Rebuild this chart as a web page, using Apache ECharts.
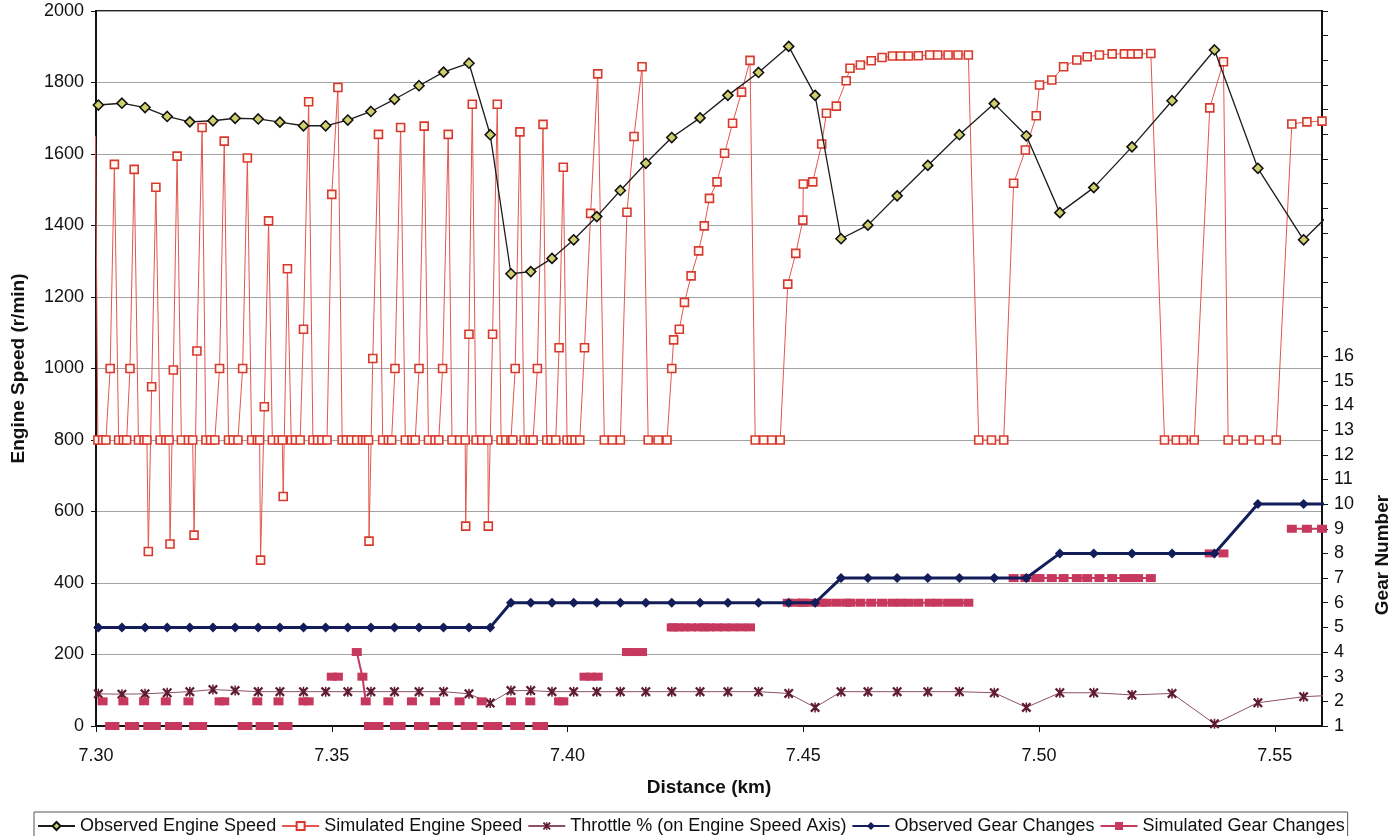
<!DOCTYPE html>
<html>
<head>
<meta charset="utf-8">
<script src="https://cdn.jsdelivr.net/npm/echarts@6/dist/echarts.min.js"></script>
<style>
  html, body { margin: 0; padding: 0; background: #ffffff; }
  #chart { width: 1395px; height: 836px; }
</style>
</head>
<body>
<div id="chart"></div>
<script>
// Observed run, sampled about once per second (distance in km)
const obsDistance = [7.2956, 7.3005, 7.3055, 7.3104, 7.3151, 7.3199, 7.3248, 7.3295, 7.3344, 7.3390,
  7.3440, 7.3487, 7.3534, 7.3583, 7.3633, 7.3685, 7.3737, 7.3791, 7.3836, 7.3880,
  7.3922, 7.3967, 7.4013, 7.4062, 7.4112, 7.4166, 7.4221, 7.4281, 7.4340, 7.4405,
  7.4469, 7.4525, 7.4580, 7.4637, 7.4699, 7.4764, 7.4831, 7.4905, 7.4973, 7.5044,
  7.5116, 7.5197, 7.5282, 7.5372, 7.5464, 7.5561, 7.5656];
const obsEngineSpeed = [1620, 1737, 1742, 1730, 1705, 1690, 1693, 1700, 1698, 1689,
  1679, 1679, 1695, 1719, 1753, 1791, 1829, 1854, 1654, 1265,
  1271, 1308, 1360, 1425, 1498, 1574, 1646, 1701, 1764, 1828,
  1901, 1764, 1363, 1401, 1483, 1568, 1654, 1741, 1651, 1436,
  1506, 1620, 1749, 1891, 1560, 1360, 1485];
const throttlePct = [90, 90, 89, 90, 93, 96, 102, 99, 96, 96,
  96, 96, 96, 96, 96, 96, 96, 90, 64, 99,
  99, 96, 96, 96, 96, 96, 96, 96, 96, 96,
  91, 52, 96, 96, 96, 96, 96, 93, 52, 93,
  93, 87, 91, 6, 65, 82, 88];
const obsGear = [5, 5, 5, 5, 5, 5, 5, 5, 5, 5,
  5, 5, 5, 5, 5, 5, 5, 5, 5, 6,
  6, 6, 6, 6, 6, 6, 6, 6, 6, 6,
  6, 6, 7, 7, 7, 7, 7, 7, 7, 8,
  8, 8, 8, 8, 10, 10, 10];

// Simulated run (finer time step); null gear = no gear change recorded at that step
const simDistance = [7.2999, 7.3004, 7.3014, 7.3021, 7.3030, 7.3039, 7.3048, 7.3058, 7.3065, 7.3072,
  7.3081, 7.3090, 7.3102, 7.3108, 7.3111, 7.3118, 7.3127, 7.3136, 7.3148, 7.3155,
  7.3157, 7.3164, 7.3172, 7.3181, 7.3196, 7.3205, 7.3208, 7.3214, 7.3225, 7.3233,
  7.3243, 7.3252, 7.3262, 7.3272, 7.3281, 7.3291, 7.3301, 7.3311, 7.3321, 7.3330,
  7.3342, 7.3347, 7.3349, 7.3357, 7.3366, 7.3374, 7.3387, 7.3395, 7.3397, 7.3406,
  7.3414, 7.3423, 7.3433, 7.3440, 7.3451, 7.3460, 7.3470, 7.3479, 7.3490, 7.3500,
  7.3513, 7.3522, 7.3531, 7.3541, 7.3553, 7.3565, 7.3572, 7.3578, 7.3579, 7.3587,
  7.3599, 7.3608, 7.3620, 7.3627, 7.3634, 7.3646, 7.3656, 7.3670, 7.3677, 7.3685,
  7.3696, 7.3705, 7.3719, 7.3727, 7.3735, 7.3747, 7.3755, 7.3771, 7.3783, 7.3784,
  7.3791, 7.3798, 7.3806, 7.3818, 7.3831, 7.3832, 7.3841, 7.3851, 7.3859, 7.3869,
  7.3880, 7.3884, 7.3889, 7.3899, 7.3908, 7.3921, 7.3927, 7.3936, 7.3948, 7.3956,
  7.3965, 7.3975, 7.3982, 7.3991, 7.3999, 7.4008, 7.4016, 7.4026, 7.4036, 7.4049,
  7.4064, 7.4078, 7.4095, 7.4112, 7.4126, 7.4141, 7.4158, 7.4171, 7.4192, 7.4211,
  7.4221, 7.4225, 7.4237, 7.4248, 7.4262, 7.4278, 7.4290, 7.4301, 7.4317, 7.4333,
  7.4350, 7.4369, 7.4387, 7.4398, 7.4416, 7.4433, 7.4451, 7.4467, 7.4484, 7.4499,
  7.4500, 7.4520, 7.4539, 7.4549, 7.4570, 7.4591, 7.4599, 7.4621, 7.4644, 7.4667,
  7.4689, 7.4706, 7.4723, 7.4744, 7.4768, 7.4785, 7.4807, 7.4828, 7.4850, 7.4872,
  7.4899, 7.4925, 7.4946, 7.4971, 7.4994, 7.5001, 7.5027, 7.5052, 7.5080, 7.5102,
  7.5128, 7.5155, 7.5181, 7.5196, 7.5210, 7.5237, 7.5266, 7.5291, 7.5306, 7.5329,
  7.5362, 7.5391, 7.5401, 7.5433, 7.5467, 7.5503, 7.5536, 7.5568, 7.5600];
const simEngineSpeed = [1650, 800, 800, 800, 1000, 1571, 800, 800, 800, 1000,
  1557, 800, 800, 800, 488, 949, 1507, 800, 800, 800,
  509, 996, 1594, 800, 800, 800, 534, 1049, 1674, 800,
  800, 800, 1000, 1636, 800, 800, 800, 1000, 1589, 800,
  800, 800, 464, 893, 1413, 800, 800, 800, 642, 1279,
  800, 800, 800, 1110, 1746, 800, 800, 800, 800, 1487,
  1786, 800, 800, 800, 800, 800, 800, 800, 517, 1028,
  1655, 800, 800, 800, 1000, 1674, 800, 800, 800, 1000,
  1678, 800, 800, 800, 1000, 1655, 800, 800, 800, 559,
  1096, 1739, 800, 800, 800, 559, 1096, 1739, 800, 800,
  800, 800, 1000, 1662, 800, 800, 800, 1000, 1683, 800,
  800, 800, 1058, 1563, 800, 800, 800, 800, 1058, 1434,
  1824, 800, 800, 800, 1437, 1649, 1844, 800, 800, 800,
  1000, 1080, 1110, 1185, 1259, 1329, 1399, 1476, 1522, 1602,
  1686, 1773, 1862, 800, 800, 800, 800, 1236, 1322, 1415,
  1516, 1522, 1628, 1714, 1734, 1805, 1840, 1849, 1861, 1870,
  1874, 1874, 1874, 1875, 1877, 1877, 1877, 1877, 1877, 800,
  800, 800, 1518, 1611, 1707, 1793, 1807, 1844, 1863, 1872,
  1877, 1880, 1880, 1880, 1880, 1881, 800, 800, 800, 800,
  1729, 1858, 800, 800, 800, 800, 1684, 1690, 1692];
const simGear = [null, null, 2, null, 1, 1, null, 2, null, 1,
  1, null, 2, null, 1, 1, 1, null, 2, null,
  1, 1, 1, null, 2, null, 1, 1, 1, null,
  null, null, 2, 2, null, null, null, 1, 1, null,
  2, null, 1, 1, 1, null, 2, null, 1, 1,
  null, null, null, 2, 2, null, null, null, null, 3,
  3, null, null, null, 4, 3, 2, null, 1, 1,
  1, null, 2, null, 1, 1, null, 2, null, 1,
  1, null, 2, null, 1, 1, null, 2, null, 1,
  1, 1, null, 2, null, 1, 1, 1, null, null,
  2, null, 1, 1, null, 2, null, 1, 1, null,
  null, null, 2, 2, null, null, null, null, 3, 3,
  3, null, null, null, 4, 4, 4, null, null, null,
  5, 5, 5, 5, 5, 5, 5, 5, 5, 5,
  5, 5, 5, null, null, null, null, 6, 6, 6,
  6, 6, 6, 6, 6, 6, 6, 6, 6, 6,
  6, 6, 6, 6, 6, 6, 6, 6, 6, null,
  null, null, 7, 7, 7, 7, 7, 7, 7, 7,
  7, 7, 7, 7, 7, 7, null, null, null, null,
  8, 8, null, null, null, null, 9, 9, 9];

// Axis settings
const distanceMin = 7.30, distanceMax = 7.56, distanceStep = 0.05;
const speedMin = 0, speedMax = 2000, speedStep = 200;
const gearMin = 1, gearMax = 30, gearLabelTop = 16;

const FONT = '"Liberation Sans", Arial, Helvetica, sans-serif';
const pairs = (xs, ys) => xs.map((x, i) => [x, ys[i] == null ? '-' : ys[i]]);

// Excel-style "star" marker: an X with a vertical bar
const starMarker = 'path://M0,1.6 L1.6,0 L5,3.4 L8.4,0 L10,1.6 L6.6,5 L10,8.4 L8.4,10 L5,6.6 L1.6,10 L0,8.4 L3.4,5 Z M4.25,0 L5.75,0 L5.75,10 L4.25,10 Z';

const chart = echarts.init(document.getElementById('chart'), null, { renderer: 'canvas' });

chart.setOption({
  animation: false,
  backgroundColor: '#ffffff',
  grid: {
    left: 96, right: 73, top: 11, bottom: 110,
    show: true, borderColor: '#222', borderWidth: 2, backgroundColor: 'transparent'
  },
  legend: {
    top: 812, left: 34,
    itemWidth: 37, itemHeight: 10, itemGap: 5,
    padding: [5, 3, 5, 3],
    borderColor: '#555', borderWidth: 1, borderRadius: 0,
    textStyle: { fontFamily: FONT, fontSize: 18, color: '#111' },
    data: ['Observed Engine Speed', 'Simulated Engine Speed', 'Throttle % (on Engine Speed Axis)',
           'Observed Gear Changes', 'Simulated Gear Changes']
  },
  xAxis: {
    type: 'value', min: distanceMin, max: distanceMax, interval: distanceStep,
    name: 'Distance (km)', nameLocation: 'middle', nameGap: 52,
    nameTextStyle: { fontFamily: FONT, fontSize: 19, fontWeight: 'bold', color: '#111' },
    axisLine: { show: true, onZero: false, lineStyle: { color: '#111', width: 2 } },
    axisTick: { show: true, length: 6, lineStyle: { color: '#111', width: 1 } },
    axisLabel: { fontFamily: FONT, fontSize: 18, color: '#111', margin: 21,
                 showMaxLabel: false, formatter: v => v.toFixed(2) },
    splitLine: { show: false }
  },
  yAxis: [
    {
      type: 'value', min: speedMin, max: speedMax, interval: speedStep, position: 'left',
      name: 'Engine Speed (r/min)', nameLocation: 'middle', nameGap: 68, nameRotate: 90,
      nameTextStyle: { fontFamily: FONT, fontSize: 19, fontWeight: 'bold', color: '#111' },
      axisLine: { show: true, lineStyle: { color: '#111', width: 2 } },
      axisTick: { show: true, length: 5, lineStyle: { color: '#111' } },
      axisLabel: { fontFamily: FONT, fontSize: 18, color: '#111', margin: 12,
                   formatter: v => String(v) },
      splitLine: { show: true, lineStyle: { color: '#a3a3a3', width: 1.2 } }
    },
    {
      type: 'value', min: gearMin, max: gearMax, interval: 1, position: 'right',
      axisLine: { show: true, lineStyle: { color: '#111', width: 2 } },
      axisTick: { show: true, length: 6, lineStyle: { color: '#111' } },
      axisLabel: { fontFamily: FONT, fontSize: 18, color: '#111', margin: 12,
                   formatter: v => (v <= gearLabelTop ? String(v) : '') },
      splitLine: { show: false }
    }
  ],
  graphic: [{
    type: 'text', x: 1383, y: 555, rotation: Math.PI / 2,
    style: { text: 'Gear Number', font: 'bold 19px ' + FONT, fill: '#111',
             align: 'center', verticalAlign: 'middle' }
  }],
  series: [
    {
      name: 'Simulated Engine Speed', type: 'line', z: 2, clip: true,
      data: pairs(simDistance, simEngineSpeed),
      symbol: 'rect', symbolSize: 8, showAllSymbol: true,
      lineStyle: { color: '#e3574e', width: 1 },
      itemStyle: { color: '#fff7f2', borderColor: '#d63a2f', borderWidth: 1.6 }
    },
    {
      name: 'Observed Engine Speed', type: 'line', z: 3, clip: true,
      data: pairs(obsDistance, obsEngineSpeed),
      symbol: 'diamond', symbolSize: 10, showAllSymbol: true,
      lineStyle: { color: '#1c1c1c', width: 1.3 },
      itemStyle: { color: '#cfcf6e', borderColor: '#111', borderWidth: 1.6 }
    },
    {
      name: 'Throttle % (on Engine Speed Axis)', type: 'line', z: 4, clip: true,
      data: pairs(obsDistance, throttlePct),
      symbol: starMarker, symbolSize: 10, showAllSymbol: true,
      lineStyle: { color: '#8e5062', width: 1 },
      itemStyle: { color: '#5e1b32' }
    },
    {
      name: 'Simulated Gear Changes', type: 'line', yAxisIndex: 1, z: 5, clip: true,
      data: pairs(simDistance, simGear), connectNulls: false,
      symbol: 'rect', symbolSize: [10, 8], showAllSymbol: true,
      lineStyle: { color: '#c6385d', width: 2 },
      itemStyle: { color: '#c6385d' }
    },
    {
      name: 'Observed Gear Changes', type: 'line', yAxisIndex: 1, z: 6, clip: true,
      data: pairs(obsDistance, obsGear),
      symbol: 'diamond', symbolSize: 10, showAllSymbol: true,
      lineStyle: { color: '#121d5a', width: 3 },
      itemStyle: { color: '#121d5a' }
    }
  ]
});
</script>
</body>
</html>
